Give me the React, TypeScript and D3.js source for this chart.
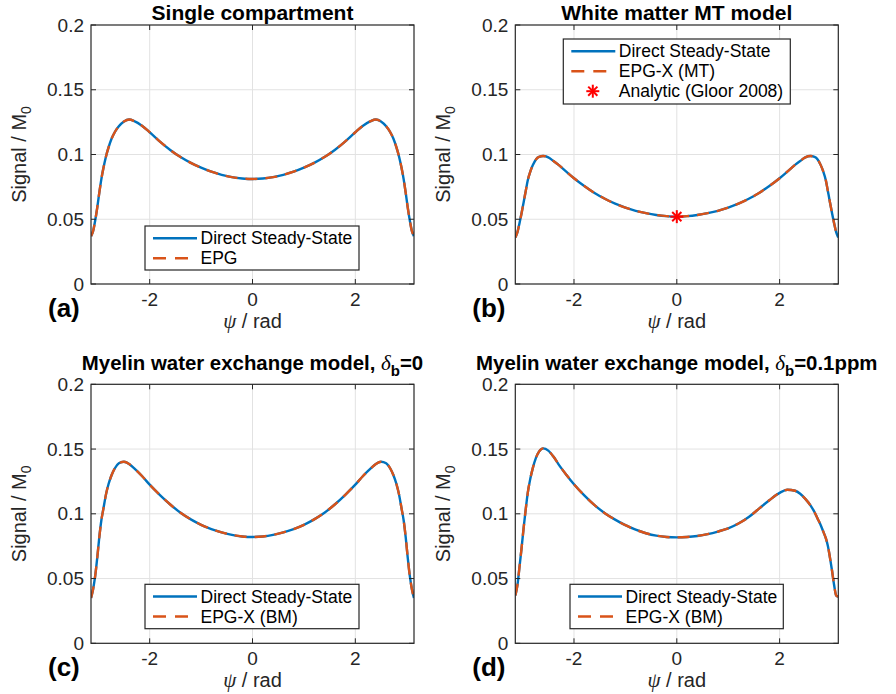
import React from "react";
import * as d3 from "d3";

// ---------- data ----------
const PSI = [
  -3.14, -3.1, -3.06, -3.02, -2.98, -2.94, -2.9, -2.85, -2.8, -2.74, -2.68, -2.6, -2.5, -2.4, -2.3, -2.15,
  -2.0, -1.8, -1.6, -1.4, -1.2, -1.0, -0.8, -0.6, -0.4, -0.2, 0,
  0.2, 0.4, 0.6, 0.8, 1.0, 1.2, 1.4, 1.6, 1.8, 2.0,
  2.15, 2.3, 2.4, 2.5, 2.6, 2.68, 2.74, 2.8, 2.85, 2.9, 2.94, 2.98, 3.02, 3.06, 3.1, 3.14,
];

// (a) Single compartment
const A_DIRECT = [
  0.037, 0.041, 0.049, 0.059, 0.0705, 0.081, 0.0895, 0.0985, 0.1055, 0.1123, 0.1172, 0.1218, 0.1255, 0.127, 0.1258, 0.1222,
  0.1172, 0.11, 0.1035, 0.098, 0.0935, 0.0898, 0.0867, 0.0843, 0.0825, 0.0815, 0.0811,
  0.0815, 0.0825, 0.0843, 0.0867, 0.0898, 0.0935, 0.098, 0.1035, 0.11, 0.1172,
  0.1222, 0.1258, 0.127, 0.1255, 0.1218, 0.1172, 0.1123, 0.1055, 0.0985, 0.0895, 0.081, 0.0705, 0.059, 0.049, 0.041, 0.037,
];
const A_EPG = A_DIRECT;

// (b) White matter MT model
const B_DIRECT = [
  0.036, 0.04, 0.047, 0.0546, 0.063, 0.0715, 0.08, 0.0868, 0.0918, 0.0962, 0.0982, 0.0988, 0.0978, 0.095, 0.092, 0.0868,
  0.0817, 0.0757, 0.0703, 0.0658, 0.062, 0.059, 0.0565, 0.0547, 0.0533, 0.0524, 0.052,
  0.0524, 0.0533, 0.0547, 0.0565, 0.059, 0.062, 0.0658, 0.0703, 0.0757, 0.0817,
  0.0868, 0.092, 0.095, 0.0978, 0.0988, 0.0982, 0.0962, 0.0918, 0.0868, 0.08, 0.0715, 0.063, 0.0546, 0.047, 0.04, 0.036,
];
const B_EPGX = B_DIRECT;
const B_ANALYTIC_PSI = [0];
const B_ANALYTIC = [0.052];

// (c) Myelin water exchange, delta_b = 0
const C_DIRECT = [
  0.035, 0.042, 0.052, 0.066, 0.082, 0.095, 0.104, 0.115, 0.123, 0.13, 0.135, 0.139, 0.1402, 0.1385, 0.135, 0.1292,
  0.1225, 0.1145, 0.1072, 0.1008, 0.0957, 0.0915, 0.0882, 0.0857, 0.0837, 0.0825, 0.0821,
  0.0825, 0.0837, 0.0857, 0.0882, 0.0915, 0.0957, 0.1008, 0.1072, 0.1145, 0.1225,
  0.1292, 0.135, 0.1385, 0.1402, 0.139, 0.135, 0.13, 0.123, 0.115, 0.104, 0.095, 0.082, 0.066, 0.052, 0.042, 0.035,
];
const C_EPGX = C_DIRECT;

// (d) Myelin water exchange, delta_b = 0.1 ppm
const D_DIRECT = [
  0.037, 0.045, 0.059, 0.0734, 0.089, 0.103, 0.116, 0.127, 0.1355, 0.1432, 0.148, 0.1505, 0.1488, 0.1442, 0.1382, 0.1302,
  0.1228, 0.1142, 0.1067, 0.1005, 0.0955, 0.0912, 0.0877, 0.085, 0.0831, 0.0821, 0.0818,
  0.0821, 0.0829, 0.0843, 0.0863, 0.0888, 0.0925, 0.0975, 0.104, 0.1105, 0.1162,
  0.1186, 0.1178, 0.1155, 0.1115, 0.1065, 0.1012, 0.0962, 0.0912, 0.0862, 0.081, 0.075, 0.066, 0.056, 0.045, 0.037, 0.036,
];
const D_EPGX = D_DIRECT;

const X_TICKS = [-2, 0, 2];
const Y_TICKS = [0, 0.05, 0.1, 0.15, 0.2];
const Y_TICK_LABELS = ["0", "0.05", "0.1", "0.15", "0.2"];

// ---------- styles ----------
const SANS = "'Liberation Sans', Arial, Helvetica, sans-serif";
const SERIF = "'Liberation Serif', 'Times New Roman', serif";
const AX = "#262626";
const BLUE = "#0072BD";
const ORANGE = "#D95319";
const GRID = "#e2e2e2";
const FS_TICK = 19;
const FS_LEG = 17.5;
const FS_LAB = 20;
const FS_TITLE = 21;
const FS_TITLE_DELTA = 20.4;

type Title = { kind: "plain"; text: string } | { kind: "delta"; pre: string; post: string };

type PanelSpec = {
  left: number;
  top: number;
  title: Title;
  letter: string;
  direct: number[];
  dashed: number[];
  legend: string[];
  legendBox: { x: number; y: number; w: number; h: number };
  star?: boolean;
};

const W = 323;
const H = 259;

const PANELS: PanelSpec[] = [
  {
    left: 91, top: 25, title: { kind: "plain", text: "Single compartment" }, letter: "(a)",
    direct: A_DIRECT, dashed: A_EPG, legend: ["Direct Steady-State", "EPG"],
    legendBox: { x: 145, y: 226, w: 214, h: 44 },
  },
  {
    left: 515.3, top: 25, title: { kind: "plain", text: "White matter MT model" }, letter: "(b)",
    direct: B_DIRECT, dashed: B_EPGX, legend: ["Direct Steady-State", "EPG-X (MT)", "Analytic (Gloor 2008)"],
    legendBox: { x: 563.3, y: 39, w: 227, h: 65 }, star: true,
  },
  {
    left: 91, top: 384.3, title: { kind: "delta", pre: "Myelin water exchange model, ", post: "=0" }, letter: "(c)",
    direct: C_DIRECT, dashed: C_EPGX, legend: ["Direct Steady-State", "EPG-X (BM)"],
    legendBox: { x: 145, y: 584.3, w: 214, h: 44.4 },
  },
  {
    left: 515.3, top: 384.3, title: { kind: "delta", pre: "Myelin water exchange model, ", post: "=0.1ppm" }, letter: "(d)",
    direct: D_DIRECT, dashed: D_EPGX, legend: ["Direct Steady-State", "EPG-X (BM)"],
    legendBox: { x: 570, y: 584.3, w: 213.3, h: 44.4 },
  },
];

function Star({ x, y, r, color }: { x: number; y: number; r: number; color: string }) {
  const d = r * Math.SQRT1_2;
  return (
    <g stroke={color} strokeWidth={2}>
      <line x1={x - r} y1={y} x2={x + r} y2={y} />
      <line x1={x} y1={y - r} x2={x} y2={y + r} />
      <line x1={x - d} y1={y - d} x2={x + d} y2={y + d} />
      <line x1={x - d} y1={y + d} x2={x + d} y2={y - d} />
    </g>
  );
}

function Panel({ p, idx }: { p: PanelSpec; idx: number }) {
  const x = d3.scaleLinear().domain([-Math.PI, Math.PI]).range([p.left, p.left + W]);
  const y = d3.scaleLinear().domain([0, 0.2]).range([p.top + H, p.top]);
  const line = d3
    .line<number>()
    .x((_, i) => x(PSI[i]))
    .y((v) => y(v))
    .curve(d3.curveMonotoneX);
  const clipId = `clip${idx}`;
  const cx = p.left + W / 2;
  const bottom = p.top + H;
  const tick = 5;
  const lb = p.legendBox;
  const rowY = (i: number) => lb.y + 12.2 + i * 20;

  return (
    <g>
      <defs>
        <clipPath id={clipId}>
          <rect x={p.left} y={p.top - 3} width={W} height={H + 3} />
        </clipPath>
      </defs>
      <rect x={p.left} y={p.top} width={W} height={H} fill="#fff" />
      {/* grid */}
      {X_TICKS.map((t) => (
        <line key={"gx" + t} x1={x(t)} x2={x(t)} y1={p.top} y2={bottom} stroke={GRID} strokeWidth={1} />
      ))}
      {Y_TICKS.slice(1, -1).map((t) => (
        <line key={"gy" + t} x1={p.left} x2={p.left + W} y1={y(t)} y2={y(t)} stroke={GRID} strokeWidth={1} />
      ))}
      {/* curves */}
      <g clipPath={`url(#${clipId})`}>
        <path d={line(p.direct) || ""} fill="none" stroke={BLUE} strokeWidth={2.4} />
        <path d={line(p.dashed) || ""} fill="none" stroke={ORANGE} strokeWidth={2.4} strokeDasharray="12,8" />
      </g>
      {p.star &&
        B_ANALYTIC_PSI.map((ps, i) => <Star key={"s" + i} x={x(ps)} y={y(B_ANALYTIC[i])} r={6.5} color="#ff0000" />)}
      {/* ticks */}
      {X_TICKS.map((t) => (
        <g key={"tx" + t} stroke={AX} strokeWidth={1}>
          <line x1={x(t)} x2={x(t)} y1={bottom} y2={bottom - tick} />
          <line x1={x(t)} x2={x(t)} y1={p.top} y2={p.top + tick} />
        </g>
      ))}
      {Y_TICKS.map((t) => (
        <g key={"ty" + t} stroke={AX} strokeWidth={1}>
          <line x1={p.left} x2={p.left + tick} y1={y(t)} y2={y(t)} />
          <line x1={p.left + W} x2={p.left + W - tick} y1={y(t)} y2={y(t)} />
        </g>
      ))}
      <rect x={p.left} y={p.top} width={W} height={H} fill="none" stroke={AX} strokeWidth={1.2} />
      {/* tick labels */}
      {X_TICKS.map((t) => (
        <text key={"lx" + t} x={x(t)} y={bottom + 21.5} textAnchor="middle" fontFamily={SANS} fontSize={FS_TICK} fill={AX}>
          {t < 0 ? "-" + Math.abs(t) : String(t)}
        </text>
      ))}
      {Y_TICKS.map((t, i) => (
        <text key={"ly" + t} x={p.left - 7} y={y(t) + 6.6} textAnchor="end" fontFamily={SANS} fontSize={FS_TICK} fill={AX}>
          {Y_TICK_LABELS[i]}
        </text>
      ))}
      {/* axis labels */}
      <text x={cx} y={bottom + 44} textAnchor="middle" fontFamily={SANS} fontSize={FS_LAB} fill={AX}>
        <tspan fontFamily={SERIF} fontStyle="italic" fontSize={21}>ψ</tspan>
        <tspan> / rad</tspan>
      </text>
      <text
        transform={`translate(${p.left - 65},${p.top + H / 2}) rotate(-90)`}
        textAnchor="middle"
        fontFamily={SANS}
        fontSize={FS_LAB}
        fill={AX}
      >
        <tspan>Signal / M</tspan>
        <tspan fontSize={14} dy={5}>0</tspan>
      </text>
      {/* title */}
      {p.title.kind === "plain" ? (
        <text x={cx} y={p.top - 5} textAnchor="middle" fontFamily={SANS} fontSize={FS_TITLE} fontWeight="bold" fill="#000">
          {p.title.text}
        </text>
      ) : (
        <text x={cx} y={p.top - 14} textAnchor="middle" fontFamily={SANS} fontSize={FS_TITLE_DELTA} fontWeight="bold" fill="#000">
          <tspan>{p.title.pre}</tspan>
          <tspan fontFamily={SERIF} fontStyle="italic" fontWeight="normal" fontSize={21}>δ</tspan>
          <tspan fontSize={15} dy={6}>b</tspan>
          <tspan dy={-6}>{p.title.post}</tspan>
        </text>
      )}
      {/* panel letter */}
      <text x={p.left - 43} y={bottom + 33} fontFamily={SANS} fontSize={26} fontWeight="bold" fill="#000">
        {p.letter}
      </text>
      {/* legend */}
      <rect x={lb.x} y={lb.y} width={lb.w} height={lb.h} fill="#fff" stroke={AX} strokeWidth={1.2} />
      <line x1={lb.x + 8} x2={lb.x + 52} y1={rowY(0)} y2={rowY(0)} stroke={BLUE} strokeWidth={2.4} />
      <line
        x1={lb.x + 8}
        x2={lb.x + 52}
        y1={rowY(1)}
        y2={rowY(1)}
        stroke={ORANGE}
        strokeWidth={2.4}
        strokeDasharray="13,9"
      />
      {p.star && <Star x={lb.x + 29.5} y={rowY(2)} r={6.5} color="#ff0000" />}
      {p.legend.map((s, i) => (
        <text key={"lg" + i} x={lb.x + 55.5} y={rowY(i) + 6.2} fontFamily={SANS} fontSize={FS_LEG} fill="#000">
          {s}
        </text>
      ))}
    </g>
  );
}

export default function App() {
  return (
    <svg
      width={896}
      height={694}
      viewBox="0 0 896 694"
      style={{ position: "absolute", left: 0, top: 0, background: "#fff" }}
    >
      <rect width={896} height={694} fill="#fff" />
      {PANELS.map((p, i) => (
        <Panel key={i} p={p} idx={i} />
      ))}
    </svg>
  );
}
